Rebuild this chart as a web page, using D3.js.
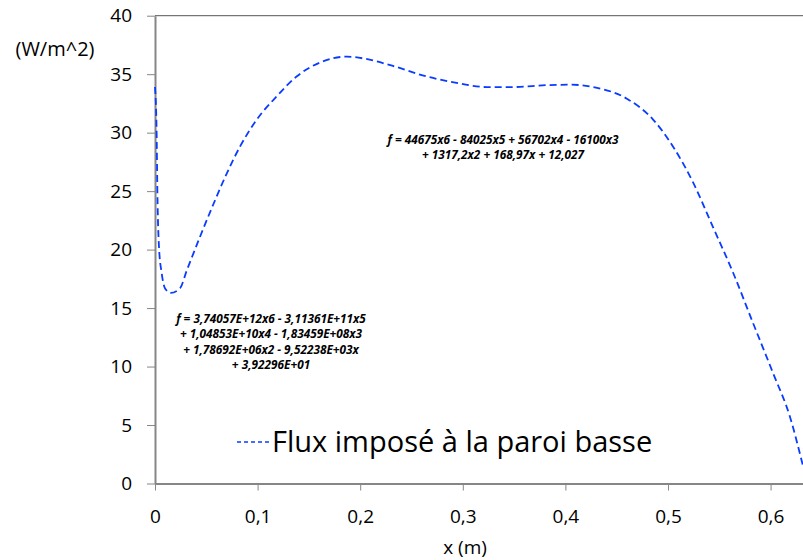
<!DOCTYPE html>
<html lang="fr">
<head>
<meta charset="UTF-8">
<title>Flux imposé à la paroi basse</title>
<script src="https://d3js.org/d3.v7.min.js"></script>
<style>
  body { margin: 0; background: #fff; }
  svg { display: block; font-family: "Open Sans", Lato, sans-serif; }
  .axis path, .axis line { stroke: #868686; }
  .axis text { fill: #000; font-size: 19px; font-family: "Open Sans", sans-serif; }
  .eq { font-size: 11.8px; font-weight: bold; font-style: italic; fill: #000; }
</style>
</head>
<body>
<svg width="803" height="560"></svg>
<script>
// x position (m) and flux (W/m^2)
const xs = [0, 0.0016, 0.0023, 0.0039, 0.0065, 0.0097, 0.0153, 0.0244, 0.0309, 0.0439,
  0.057, 0.0699, 0.0828, 0.0991, 0.1186, 0.138, 0.161, 0.187, 0.206, 0.232, 0.265,
  0.2973, 0.323, 0.349, 0.3817, 0.405, 0.427, 0.46, 0.4857, 0.505, 0.5247, 0.544,
  0.5636, 0.583, 0.6026, 0.6189, 0.6313];
const flux = [33.9, 29.9, 25.1, 20.2, 18.0, 16.7, 16.3, 16.7, 18.2, 21.1,
  23.9, 26.5, 28.8, 31.1, 33.1, 34.8, 36.0, 36.5, 36.3, 35.7, 34.8,
  34.2, 33.9, 33.9, 34.06, 34.1, 33.9, 32.9, 31.1, 28.8, 25.7, 21.9,
  18.0, 13.7, 9.4, 5.7, 1.6];

const xTicks = [0, 0.1, 0.2, 0.3, 0.4, 0.5, 0.6];
const yTicks = [0, 5, 10, 15, 20, 25, 30, 35, 40];

const eqLeft = ["f = 3,74057E+12x6 - 3,11361E+11x5", "+ 1,04853E+10x4 - 1,83459E+08x3",
  "+ 1,78692E+06x2 - 9,52238E+03x", "+ 3,92296E+01"];
const eqRight = ["f = 44675x6 - 84025x5 + 56702x4 - 16100x3", "+ 1317,2x2 + 168,97x + 12,027"];

const svg = d3.select("svg");
const x = d3.scaleLinear().domain([0, 0.632]).range([155, 803.4]);
const y = d3.scaleLinear().domain([0, 40]).range([483.5, 15.7]);

// top border
svg.append("line")
  .attr("x1", x(0)).attr("x2", 803).attr("y1", y(40)).attr("y2", y(40))
  .attr("stroke", "#555").attr("stroke-width", 1);

const yAxis = svg.append("g").attr("class", "axis")
  .attr("transform", `translate(${x(0)},0)`)
  .call(d3.axisLeft(y).tickValues(yTicks).tickSize(8).tickPadding(15).tickSizeOuter(0));
yAxis.select(".domain").attr("stroke-width", 2);

const xAxis = svg.append("g").attr("class", "axis")
  .attr("transform", `translate(0,${y(0)})`)
  .call(d3.axisBottom(x).tickValues(xTicks).tickSize(7).tickPadding(19).tickSizeOuter(0)
    .tickFormat(d => d3.format(".1f")(d).replace(".", ",").replace(/^0,0$/, "0")));
xAxis.select(".domain").attr("stroke-width", 2);

svg.append("text").attr("x", 55).attr("y", 56).attr("text-anchor", "middle")
  .attr("font-size", 20).text("(W/m^2)");
svg.append("text").attr("x", 465).attr("y", 554).attr("text-anchor", "middle")
  .attr("font-size", 19).text("x (m)");

// curve
const line = d3.line().x((d, i) => x(xs[i])).y(d => y(d)).curve(d3.curveMonotoneX);
svg.append("path").datum(flux)
  .attr("d", line)
  .attr("fill", "none").attr("stroke", "#0a3cff")
  .attr("stroke-width", 1.8).attr("stroke-dasharray", "7,4");

// fit equations
svg.selectAll(".eqL").data(eqLeft).join("text").attr("class", "eq")
  .attr("x", 271).attr("y", (d, i) => 323 + i * 15.3)
  .attr("text-anchor", "middle").text(d => d);
svg.selectAll(".eqR").data(eqRight).join("text").attr("class", "eq")
  .attr("x", 503).attr("y", (d, i) => 144 + i * 14.5)
  .attr("text-anchor", "middle").text(d => d);

// legend
svg.append("line").attr("x1", 237).attr("x2", 270).attr("y1", 442).attr("y2", 442)
  .attr("stroke", "#0a3cff").attr("stroke-width", 1.5).attr("stroke-dasharray", "4,3");
svg.append("text").attr("x", 272).attr("y", 452).attr("font-size", 29)
  .text("Flux imposé à la paroi basse");
</script>
</body>
</html>
